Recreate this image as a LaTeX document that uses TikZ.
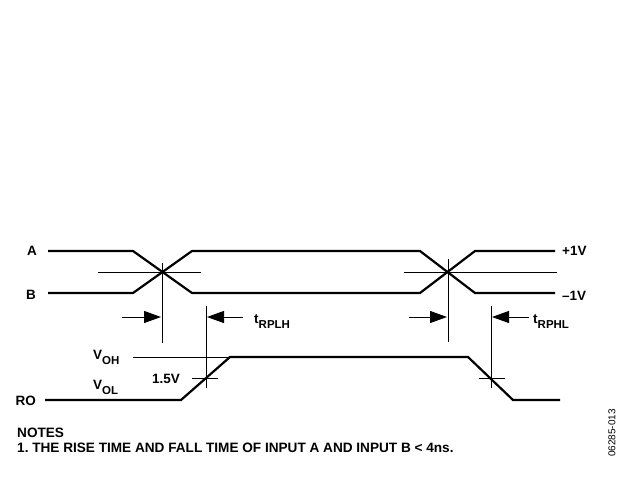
\documentclass[tikz,border=0pt]{standalone}
\usepackage{fontspec}
\setmainfont{Liberation Sans}
\usetikzlibrary{arrows.meta}
\frenchspacing
\newcommand\sublab[1]{\raisebox{-5pt}{\fontsize{11.5}{11.5}\selectfont #1}}
\begin{document}
\begin{tikzpicture}[x=1pt,y=-1pt,
 sig/.style={line width=2.2pt, line join=miter},
 refl/.style={line width=1pt},
 dimarrow/.style={line width=1pt,-{Triangle[length=17pt,width=12pt]}},
 lab/.style={font=\fontsize{13.5}{13.5}\selectfont\bfseries, inner sep=0pt},
 notelab/.style={font=\fontsize{13.6}{13.6}\selectfont\bfseries, inner sep=0pt},
 ]
\useasboundingbox (0,0) rectangle (621,487);
% coordinates
\coordinate (a0) at (48,251); \coordinate (a1) at (133,251); \coordinate (a2) at (192,293);
\coordinate (a3) at (420,293); \coordinate (a4) at (475,251); \coordinate (a5) at (555,251);
\coordinate (b0) at (48,293); \coordinate (b1) at (133,293); \coordinate (b2) at (192,251);
\coordinate (b3) at (420,251); \coordinate (b4) at (475,293); \coordinate (b5) at (555,293);
\coordinate (r0) at (45,400); \coordinate (r1) at (181,400); \coordinate (r2) at (230,357);
\coordinate (r3) at (468,357); \coordinate (r4) at (513,400); \coordinate (r5) at (560,400);
% signals
\draw[sig] (a0) -- (a1) -- (a2) -- (a3) -- (a4) -- (a5);
\draw[sig] (b0) -- (b1) -- (b2) -- (b3) -- (b4) -- (b5);
\draw[sig] (r0) -- (r1) -- (r2) -- (r3) -- (r4) -- (r5);
% reference lines
\coordinate (h1s) at (98,272); \coordinate (h1e) at (201,272);
\coordinate (h2s) at (404,272); \coordinate (h2e) at (557,272);
\draw[refl] (h1s) -- (h1e);
\draw[refl] (h2s) -- (h2e);
\coordinate (v1t) at (162,263); \coordinate (v1b) at (162,343);
\coordinate (v2t) at (206,306); \coordinate (v2b) at (206,388);
\coordinate (v3t) at (448,259); \coordinate (v3b) at (448,342);
\coordinate (v4t) at (491,306); \coordinate (v4b) at (491,388);
\draw[refl] (v1t) -- (v1b);
\draw[refl] (v2t) -- (v2b);
\draw[refl] (v3t) -- (v3b);
\draw[refl] (v4t) -- (v4b);
\coordinate (vohs) at (133,357);
\draw[refl] (vohs) -- (r2);
\coordinate (t1s) at (192,378); \coordinate (t1e) at (218,378);
\coordinate (t2s) at (479,378); \coordinate (t2e) at (505,378);
\draw[refl] (t1s) -- (t1e);
\draw[refl] (t2s) -- (t2e);
% dimension arrows
\coordinate (d1s) at (122,317); \coordinate (d1e) at (161,317);
\coordinate (d2s) at (243,317); \coordinate (d2e) at (207,317);
\coordinate (d3s) at (409,317); \coordinate (d3e) at (447,317);
\coordinate (d4s) at (529,317); \coordinate (d4e) at (492,317);
\draw[dimarrow] (d1s) -- (d1e);
\draw[dimarrow] (d2s) -- (d2e);
\draw[dimarrow] (d3s) -- (d3e);
\draw[dimarrow] (d4s) -- (d4e);
% labels
\node[lab, anchor=east] (la) at (37,251) {A};
\node[lab, anchor=east] (lb) at (36,295) {B};
\node[lab, anchor=west] (lp) at (562,251) {+1V};
\node[lab, anchor=west] (lm) at (562,296) {–1V};
\node[lab, anchor=base west] (tplh) at (254,323) {t\sublab{RPLH}};
\node[lab, anchor=base west] (tphl) at (533,323) {t\sublab{RPHL}};
\node[lab, anchor=base west] (voh) at (93,359) {V\sublab{OH}};
\node[lab, anchor=base west] (vol) at (93,389) {V\sublab{OL}};
\node[lab, anchor=base west] (l15) at (152,383) {1.5V};
\node[lab, anchor=east] (lro) at (36,401) {RO};
\node[notelab, anchor=base west] (notes) at (17,437) {NOTES};
\node[notelab, anchor=base west] (note1) at (17,452) {1. THE RISE TIME AND FALL TIME OF INPUT A AND INPUT B < 4ns.};
\node[inner sep=0pt, rotate=90, font=\fontsize{10}{10}\selectfont] (code) at (612,433) {06285-013};
\end{tikzpicture}
\end{document}
